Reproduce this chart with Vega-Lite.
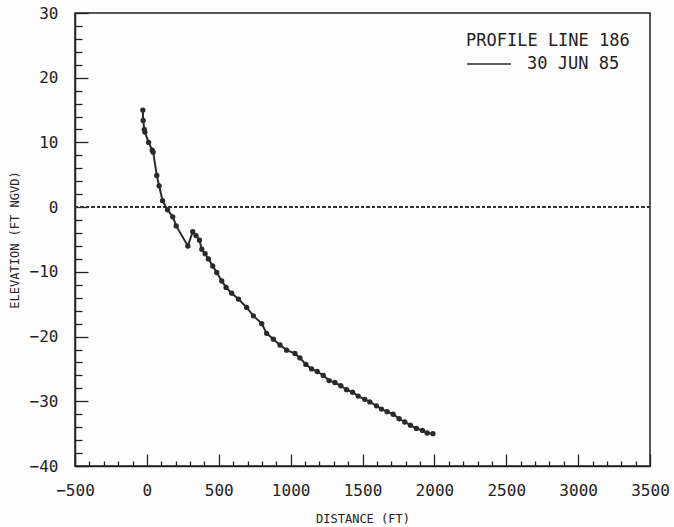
{
  "$schema": "https://vega.github.io/schema/vega-lite/v6.json",
  "width": 575,
  "height": 453,
  "autosize": "none",
  "padding": {"left": 75, "top": 13, "right": 24, "bottom": 61},
  "background": "#fdfdfd",
  "config": {
    "view": {"stroke": "#222", "strokeWidth": 1.5},
    "axis": {
      "grid": false,
      "domainColor": "#222",
      "domainWidth": 1.5,
      "tickColor": "#222",
      "tickWidth": 1.3,
      "labelFont": "DejaVu Sans Mono",
      "labelFontSize": 16,
      "labelColor": "#222",
      "titleFont": "DejaVu Sans Mono",
      "titleFontSize": 12,
      "titleFontWeight": "normal",
      "titleColor": "#222",
      "labelOverlap": false,
      "labelFlush": false
    },
    "legend": {
      "titleFont": "DejaVu Sans Mono",
      "titleFontSize": 17,
      "titleFontWeight": "normal",
      "titleColor": "#222",
      "labelFont": "DejaVu Sans Mono",
      "labelFontSize": 17,
      "labelColor": "#222"
    }
  },
  "data": {
    "values": [
      {"distance": -28, "elevation": 15.0, "survey": "30 JUN 85"},
      {"distance": -26, "elevation": 13.4, "survey": "30 JUN 85"},
      {"distance": -18, "elevation": 12.0, "survey": "30 JUN 85"},
      {"distance": -14, "elevation": 11.6, "survey": "30 JUN 85"},
      {"distance": 12, "elevation": 10.0, "survey": "30 JUN 85"},
      {"distance": 37, "elevation": 8.8, "survey": "30 JUN 85"},
      {"distance": 44, "elevation": 8.5, "survey": "30 JUN 85"},
      {"distance": 69, "elevation": 4.9, "survey": "30 JUN 85"},
      {"distance": 85, "elevation": 3.3, "survey": "30 JUN 85"},
      {"distance": 109, "elevation": 1.0, "survey": "30 JUN 85"},
      {"distance": 144, "elevation": -0.4, "survey": "30 JUN 85"},
      {"distance": 180, "elevation": -1.5, "survey": "30 JUN 85"},
      {"distance": 204, "elevation": -2.9, "survey": "30 JUN 85"},
      {"distance": 285, "elevation": -6.0, "survey": "30 JUN 85"},
      {"distance": 319, "elevation": -3.8, "survey": "30 JUN 85"},
      {"distance": 342, "elevation": -4.4, "survey": "30 JUN 85"},
      {"distance": 366, "elevation": -5.1, "survey": "30 JUN 85"},
      {"distance": 382, "elevation": -6.5, "survey": "30 JUN 85"},
      {"distance": 405, "elevation": -7.2, "survey": "30 JUN 85"},
      {"distance": 428, "elevation": -8.0, "survey": "30 JUN 85"},
      {"distance": 458, "elevation": -9.1, "survey": "30 JUN 85"},
      {"distance": 486, "elevation": -10.1, "survey": "30 JUN 85"},
      {"distance": 521, "elevation": -11.4, "survey": "30 JUN 85"},
      {"distance": 551, "elevation": -12.4, "survey": "30 JUN 85"},
      {"distance": 590, "elevation": -13.3, "survey": "30 JUN 85"},
      {"distance": 637, "elevation": -14.2, "survey": "30 JUN 85"},
      {"distance": 694, "elevation": -15.5, "survey": "30 JUN 85"},
      {"distance": 741, "elevation": -16.8, "survey": "30 JUN 85"},
      {"distance": 799, "elevation": -18.0, "survey": "30 JUN 85"},
      {"distance": 833, "elevation": -19.5, "survey": "30 JUN 85"},
      {"distance": 880, "elevation": -20.4, "survey": "30 JUN 85"},
      {"distance": 926, "elevation": -21.3, "survey": "30 JUN 85"},
      {"distance": 972, "elevation": -22.1, "survey": "30 JUN 85"},
      {"distance": 1030, "elevation": -22.6, "survey": "30 JUN 85"},
      {"distance": 1065, "elevation": -23.3, "survey": "30 JUN 85"},
      {"distance": 1106, "elevation": -24.3, "survey": "30 JUN 85"},
      {"distance": 1146, "elevation": -25.0, "survey": "30 JUN 85"},
      {"distance": 1185, "elevation": -25.4, "survey": "30 JUN 85"},
      {"distance": 1227, "elevation": -26.0, "survey": "30 JUN 85"},
      {"distance": 1268, "elevation": -26.8, "survey": "30 JUN 85"},
      {"distance": 1308, "elevation": -27.1, "survey": "30 JUN 85"},
      {"distance": 1349, "elevation": -27.6, "survey": "30 JUN 85"},
      {"distance": 1389, "elevation": -28.2, "survey": "30 JUN 85"},
      {"distance": 1431, "elevation": -28.6, "survey": "30 JUN 85"},
      {"distance": 1470, "elevation": -29.2, "survey": "30 JUN 85"},
      {"distance": 1516, "elevation": -29.7, "survey": "30 JUN 85"},
      {"distance": 1551, "elevation": -30.1, "survey": "30 JUN 85"},
      {"distance": 1597, "elevation": -30.7, "survey": "30 JUN 85"},
      {"distance": 1632, "elevation": -31.2, "survey": "30 JUN 85"},
      {"distance": 1671, "elevation": -31.6, "survey": "30 JUN 85"},
      {"distance": 1713, "elevation": -32.0, "survey": "30 JUN 85"},
      {"distance": 1755, "elevation": -32.7, "survey": "30 JUN 85"},
      {"distance": 1794, "elevation": -33.2, "survey": "30 JUN 85"},
      {"distance": 1833, "elevation": -33.7, "survey": "30 JUN 85"},
      {"distance": 1875, "elevation": -34.2, "survey": "30 JUN 85"},
      {"distance": 1917, "elevation": -34.5, "survey": "30 JUN 85"},
      {"distance": 1949, "elevation": -34.9, "survey": "30 JUN 85"},
      {"distance": 1990, "elevation": -35.0, "survey": "30 JUN 85"}
    ]
  },
  "layer": [
    {
      "mark": {"type": "rule", "strokeDash": [3, 2.5], "strokeWidth": 1.8, "color": "#333"},
      "encoding": {"y": {"datum": 0}}
    },
    {
      "mark": {"type": "line", "strokeWidth": 2, "point": {"filled": true, "size": 11, "color": "#2a2a2a"}},
      "encoding": {
        "x": {
          "field": "distance",
          "type": "quantitative",
          "scale": {"domain": [-500, 3500], "nice": false, "zero": false},
          "title": "DISTANCE (FT)",
          "axis": {
            "values": [-500,-400,-300,-200,-100,0,100,200,300,400,500,600,700,800,900,1000,1100,1200,1300,1400,1500,1600,1700,1800,1900,2000,2100,2200,2300,2400,2500,2600,2700,2800,2900,3000,3100,3200,3300,3400,3500],
            "tickCount": 200,
            "format": "d",
            "labelExpr": "datum.value % 500 === 0 ? datum.label : ''",
            "tickSize": {"expr": "datum.value % 500 === 0 ? -12 : -5"},
            "labelPadding": 28,
            "titlePadding": 8
          }
        },
        "y": {
          "field": "elevation",
          "type": "quantitative",
          "scale": {"domain": [-40, 30], "nice": false, "zero": false},
          "title": "ELEVATION (FT NGVD)",
          "axis": {
            "values": [-40,-38,-36,-34,-32,-30,-28,-26,-24,-22,-20,-18,-16,-14,-12,-10,-8,-6,-4,-2,0,2,4,6,8,10,12,14,16,18,20,22,24,26,28,30],
            "tickCount": 200,
            "format": "d",
            "labelExpr": "datum.value % 10 === 0 ? datum.label : ''",
            "tickSize": {"expr": "datum.value % 10 === 0 ? -13 : -7"},
            "labelPadding": 30,
            "titlePadding": 8
          }
        },
        "stroke": {
          "field": "survey",
          "type": "nominal",
          "scale": {"range": ["#2a2a2a"]},
          "title": "PROFILE LINE 186",
          "legend": {
            "orient": "top-right",
            "offset": 20,
            "symbolType": "stroke",
            "symbolSize": 1936,
            "symbolStrokeWidth": 1.5,
            "symbolStrokeColor": "#2a2a2a",
            "labelOffset": 15,
            "titlePadding": -9
          }
        }
      }
    }
  ]
}
